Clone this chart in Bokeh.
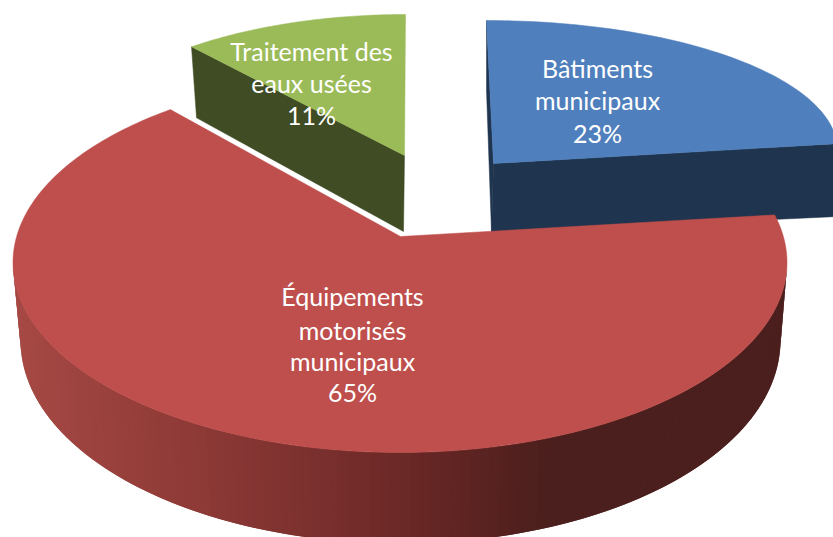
import numpy as np
from bokeh.plotting import figure
from bokeh.embed import file_html
from bokeh.resources import INLINE
from bokeh.core.properties import value

# --- data ---
categories = ["Bâtiments municipaux", "Équipements motorisés municipaux", "Traitement des eaux usées"]
shares = [23, 65, 11]
label_lines = [["Bâtiments", "municipaux", "23%"],
               ["Équipements", "motorisés", "municipaux", "65%"],
               ["Traitement des", "eaux usées", "11%"]]

# --- drawing parameters (pixel space of the 833x537 picture) ---
BLUE, BLUE_DARK = "#4f7fbc", "#1f344e"
RED = "#be4f4c"
GREEN, GREEN_DARK = "#9bbb59", "#3f4c24"

p = figure(width=833, height=537, x_range=(0, 833), y_range=(537, 0),
           output_backend="svg", toolbar_location=None, min_border=0,
           margin=0, background_fill_color="white",
           border_fill_color="white", outline_line_color=None)
p.axis.visible = False
p.grid.visible = False

edges = np.cumsum([0] + shares) / sum(shares) * 360.0
ang = {"blue": (edges[0], edges[1]), "red": (edges[1], edges[2]), "green": (edges[2], edges[3])}


def ell(c, a, b, t):
    t = np.radians(t)
    return c[0] + a * np.sin(t), c[1] - b * np.cos(t)


def flat(x, y, color, lc=None):
    p.patch(x, y, fill_color=color, line_color=lc or color, line_width=0.5)


# green slice
gc, ga, gb, g_apex = (405, 159), 340, 145, (404, 155)
g_t = (np.linspace(*ang["green"], 60) - 360) * 0.975
gx, gy = ell(gc, ga, gb, g_t)
flat([gx[0], gx[0] + 5, g_apex[0] - 1, g_apex[0]], [gy[0], gy[0] + 71, g_apex[1] + 76, g_apex[1]], GREEN_DARK)
flat(np.r_[g_apex[0], gx], np.r_[g_apex[1], gy], GREEN)

# blue slice
bc, ba, bb, b_apex = (486, 150), 351, 130, (493, 163)
b_t = np.linspace(*ang["blue"], 60) * 1.04
bx, by = ell(bc, ba, bb, b_t)
flat([b_apex[0], bx[-1], bx[-1] - 2, b_apex[0] - 2], [b_apex[1], by[-1], by[-1] + 73, b_apex[1] + 69], BLUE_DARK)
flat([bx[0], bx[0], b_apex[0] - 2, b_apex[0]], [by[0], by[0] + 70, b_apex[1] + 69, b_apex[1]], BLUE_DARK)
flat(np.r_[b_apex[0], bx], np.r_[b_apex[1], by], BLUE)

# red slice: shaded wall, overlapping strips shaded by horizontal position
rc, ra, rb, r_apex = (399.5, 262), 387, 190, (400, 236)
lc, la, lb = (400, 340), 380, 203
wall_stops_x = [20, 120, 210, 320, 420, 550, 800]
wall_stops_r = [166, 152, 140, 122, 104, 75, 75]
wall_stops_g = [73, 64, 57, 48, 39, 31, 31]
wall_stops_b = [69, 60, 54, 46, 37, 29, 29]
s = np.linspace(90, 270, 121)
tx, ty = ell(rc, ra, rb, s)
ux, uy = ell(lc, la, lb, s)
xs, ys, cols = [], [], []
for i in range(len(s) - 1):
    j = min(i + 2, len(s) - 1)
    xs.append([tx[i], tx[j], ux[j], ux[i]])
    ys.append([ty[i], ty[j], uy[j], uy[i]])
    m = (tx[i] + tx[i + 1]) / 2
    cols.append("#%02x%02x%02x" % tuple(int(np.interp(m, wall_stops_x, c))
                                        for c in (wall_stops_r, wall_stops_g, wall_stops_b)))
p.patches(xs, ys, fill_color=cols, line_color=None)

r_th = np.linspace(*ang["red"], 240)
r_sin = np.sin(np.radians(r_th))
r_t = r_th - 6.9 * r_sin - 1.3 * np.abs(r_sin)
rx, ry = ell(rc, ra, rb, r_t)
flat(np.r_[r_apex[0], rx], np.r_[r_apex[1], ry], RED)

# labels
label_pos = [(597, [67, 99, 132]), (352, [295, 329, 360, 391]), (311, [50, 82, 114])]
tx_all, ty_all, tt_all = [], [], []
for lines, (cx, cys) in zip(label_lines, label_pos):
    for line, cy in zip(lines, cys):
        tx_all.append(cx)
        ty_all.append(cy)
        tt_all.append(line)
p.text(tx_all, ty_all, text=tt_all, text_color="white", text_align="center",
       text_baseline="middle", text_font=value("Lato"), text_font_size="25px")

open("out.html", "w").write(file_html(p, INLINE))
